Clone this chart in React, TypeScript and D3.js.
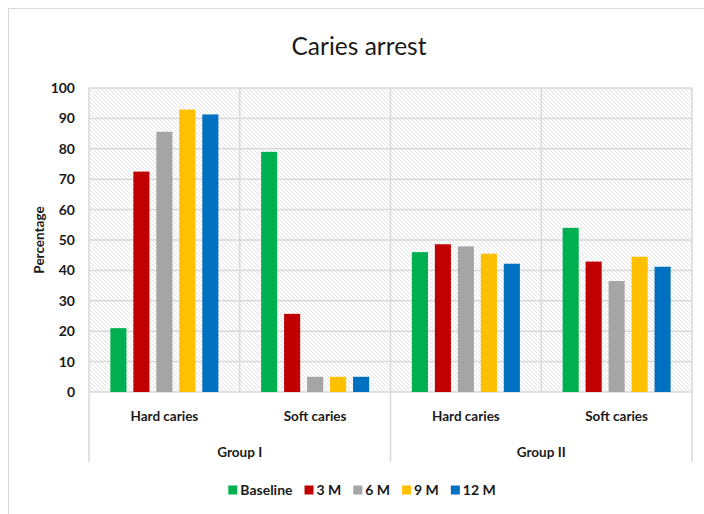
import React, { useEffect, useRef } from "react";
import * as d3 from "d3";

// Chart data
const groups = ["Group I", "Group II"];
const categories = ["Hard caries", "Soft caries"];
const seriesNames = ["Baseline", "3 M", "6 M", "9 M", "12 M"];
const seriesColors = ["#00B050", "#C00000", "#A5A5A5", "#FFC000", "#0070C0"];
const yTicks = [0, 10, 20, 30, 40, 50, 60, 70, 80, 90, 100];

// Values per series, ordered: Group I Hard, Group I Soft, Group II Hard, Group II Soft
const baseline = [21, 79, 46, 54];
const m3 = [72.5, 25.7, 48.6, 42.9];
const m6 = [85.6, 5, 47.9, 36.5];
const m9 = [92.9, 5, 45.5, 44.5];
const m12 = [91.3, 5, 42.2, 41.2];
const seriesValues = [baseline, m3, m6, m9, m12];

const FONT = "Lato, 'Open Sans', sans-serif";

export default function App() {
  const ref = useRef<SVGSVGElement>(null);

  useEffect(() => {
    const svg = d3.select(ref.current);
    svg.selectAll("*").remove();

    const W = 704, H = 514;
    const plot = { left: 89, right: 692, top: 88, bottom: 392 };
    const groupBottom = 462;

    const cells = groups.flatMap((g) => categories.map((c) => `${g}|${c}`));

    const y = d3.scaleLinear().domain([0, 100]).range([plot.bottom, plot.top]);
    const x0 = d3.scaleBand<string>().domain(cells).range([plot.left, plot.right]).padding(0);
    const x1 = d3
      .scaleBand<string>()
      .domain(seriesNames)
      .range([0, x0.bandwidth()])
      .paddingInner(0.3)
      .paddingOuter(0.93);
    const xg = d3.scaleBand<string>().domain(groups).range([plot.left, plot.right]).padding(0);

    // light diagonal hatch for the plot background
    const defs = svg.append("defs");
    const pat = defs
      .append("pattern")
      .attr("id", "hatch")
      .attr("patternUnits", "userSpaceOnUse")
      .attr("width", 4)
      .attr("height", 4);
    pat.append("rect").attr("width", 4).attr("height", 4).attr("fill", "#ffffff");
    pat
      .append("path")
      .attr("d", "M-1,-1 L5,5 M-1,3 L1,5 M3,-1 L5,1")
      .attr("stroke", "#e2e2e2")
      .attr("stroke-width", 1);

    // outer chart frame
    svg
      .append("rect")
      .attr("x", 8.5)
      .attr("y", 8.5)
      .attr("width", W)
      .attr("height", H)
      .attr("fill", "#ffffff")
      .attr("stroke", "#d9d9d9")
      .attr("stroke-width", 1);

    // title
    svg
      .append("text")
      .attr("x", 359)
      .attr("y", 55)
      .attr("text-anchor", "middle")
      .attr("font-family", FONT)
      .attr("font-size", 24.5)
      .attr("fill", "#1a1a1a")
      .text("Caries arrest");

    // plot background
    svg
      .append("rect")
      .attr("x", plot.left)
      .attr("y", plot.top)
      .attr("width", plot.right - plot.left)
      .attr("height", plot.bottom - plot.top)
      .attr("fill", "url(#hatch)");

    // horizontal gridlines
    svg
      .append("g")
      .selectAll("line")
      .data(yTicks)
      .join("line")
      .attr("x1", plot.left)
      .attr("x2", plot.right)
      .attr("y1", (d) => y(d))
      .attr("y2", (d) => y(d))
      .attr("stroke", "#d9d9d9")
      .attr("stroke-width", 1.5);

    // vertical category dividers within the plot
    const bounds = cells.map((c) => x0(c)!).concat([plot.right]);
    svg
      .append("g")
      .selectAll("line")
      .data(bounds)
      .join("line")
      .attr("x1", (d) => d)
      .attr("x2", (d) => d)
      .attr("y1", plot.top)
      .attr("y2", plot.bottom)
      .attr("stroke", "#d9d9d9")
      .attr("stroke-width", 1.5);

    // group dividers extending below the axis
    const gBounds = groups.map((g) => xg(g)!).concat([plot.right]);
    svg
      .append("g")
      .selectAll("line")
      .data(gBounds)
      .join("line")
      .attr("x1", (d) => d)
      .attr("x2", (d) => d)
      .attr("y1", plot.bottom)
      .attr("y2", groupBottom)
      .attr("stroke", "#d9d9d9")
      .attr("stroke-width", 1.5);

    // bars
    const barData = cells.flatMap((c, ci) =>
      seriesNames.map((s, si) => ({ cell: c, s, v: seriesValues[si][ci], color: seriesColors[si] }))
    );
    svg
      .append("g")
      .selectAll("rect")
      .data(barData)
      .join("rect")
      .attr("x", (d) => x0(d.cell)! + x1(d.s)!)
      .attr("y", (d) => y(d.v))
      .attr("width", x1.bandwidth())
      .attr("height", (d) => y(0) - y(d.v))
      .attr("fill", (d) => d.color);

    // y tick labels
    svg
      .append("g")
      .selectAll("text")
      .data(yTicks)
      .join("text")
      .attr("x", 75)
      .attr("y", (d) => y(d))
      .attr("dy", "0.36em")
      .attr("text-anchor", "end")
      .attr("font-family", FONT)
      .attr("font-weight", "bold")
      .attr("font-size", 14)
      .attr("fill", "#1a1a1a")
      .text((d) => String(d));

    // y axis title
    svg
      .append("text")
      .attr("transform", `translate(44, ${(plot.top + plot.bottom) / 2}) rotate(-90)`)
      .attr("text-anchor", "middle")
      .attr("font-family", FONT)
      .attr("font-weight", "bold")
      .attr("font-size", 13.5)
      .attr("fill", "#1a1a1a")
      .text("Percentage");

    // category labels
    svg
      .append("g")
      .selectAll("text")
      .data(cells)
      .join("text")
      .attr("x", (d) => x0(d)! + x0.bandwidth() / 2)
      .attr("y", 421)
      .attr("text-anchor", "middle")
      .attr("font-family", FONT)
      .attr("font-weight", "bold")
      .attr("font-size", 13.5)
      .attr("fill", "#1a1a1a")
      .text((d) => d.split("|")[1]);

    // group labels
    svg
      .append("g")
      .selectAll("text")
      .data(groups)
      .join("text")
      .attr("x", (d) => xg(d)! + xg.bandwidth() / 2)
      .attr("y", 457)
      .attr("text-anchor", "middle")
      .attr("font-family", FONT)
      .attr("font-weight", "bold")
      .attr("font-size", 13.5)
      .attr("fill", "#1a1a1a")
      .text((d) => d);

    // legend, centered
    const legend = svg.append("g");
    const sq = 9, gapText = 3, gapItem = 12;
    const items = seriesNames.map((s, i) => {
      const g = legend.append("g");
      g.append("rect").attr("width", sq).attr("height", sq).attr("y", -sq / 2).attr("fill", seriesColors[i]);
      const t = g
        .append("text")
        .attr("x", sq + gapText)
        .attr("dy", "0.36em")
        .attr("font-family", FONT)
        .attr("font-weight", "bold")
        .attr("font-size", 14)
        .attr("fill", "#1a1a1a")
        .text(s);
      const w = sq + gapText + (t.node() as SVGTextElement).getComputedTextLength();
      return { g, w };
    });
    const total = d3.sum(items, (d) => d.w) + gapItem * (items.length - 1);
    let cx = 362 - total / 2;
    items.forEach((it) => {
      it.g.attr("transform", `translate(${cx}, 490)`);
      cx += it.w + gapItem;
    });
  }, []);

  return (
    <svg
      ref={ref}
      width={704}
      height={514}
      style={{ position: "absolute", left: 0, top: 0, display: "block" }}
    />
  );
}
